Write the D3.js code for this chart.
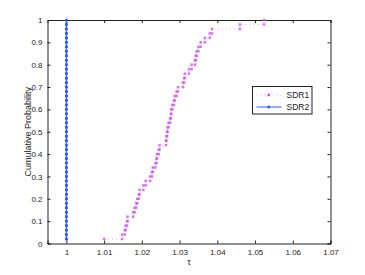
<!DOCTYPE html>
<html>
<head>
<meta charset="UTF-8">
<script src="https://cdn.jsdelivr.net/npm/d3@7/dist/d3.min.js"></script>
<style>
body{
    margin:0;
    background-color:white;
    font-family: "Liberation Sans", Helvetica, Arial, sans-serif;
}
.axis path, .axis line{
    stroke:#222;
}
.axis text{
    font-size:8px;
    fill:#222;
}
</style>
</head>
<body>
<script>

// sorted performance ratios, 50 problems
var sdr1 = [1.0100, 1.0148, 1.0155, 1.0157, 1.0161, 1.0162, 1.0177, 1.0181, 1.0185, 1.0188,
            1.0192, 1.0194, 1.0204, 1.0210, 1.0222, 1.0227, 1.0229, 1.0236, 1.0239, 1.0240,
            1.0245, 1.0247, 1.0264, 1.0265, 1.0267, 1.0268, 1.0271, 1.0275, 1.0277, 1.0278,
            1.0281, 1.0285, 1.0287, 1.0292, 1.0296, 1.0309, 1.0312, 1.0314, 1.0325, 1.0332,
            1.0341, 1.0343, 1.0345, 1.0350, 1.0356, 1.0367, 1.0380, 1.0386, 1.0460, 1.0524];
var sdr2 = d3.range(50).map(function(){ return 1; });
var seriesNames = ["SDR1", "SDR2"];
var xTicks = [1, 1.01, 1.02, 1.03, 1.04, 1.05, 1.06, 1.07];
var yTicks = [0, 0.1, 0.2, 0.3, 0.4, 0.5, 0.6, 0.7, 0.8, 0.9, 1];

var width = 365, height = 275;
var margin = {top: 20, right: 34.5, bottom: 31.5, left: 47.5};

var x = d3.scaleLinear().domain([0.995, 1.07]).range([margin.left, width - margin.right]);
var y = d3.scaleLinear().domain([0, 1]).range([height - margin.bottom, margin.top]);

// matlab style stairs: (r1,y1),(r2,y1),(r2,y2),...,(rn,yn)
function stairs(r){
    var n = r.length, pts = [];
    for (var i = 0; i < n; i++){
        pts.push([r[i], (i + 1) / n]);
        if (i < n - 1) pts.push([r[i + 1], (i + 1) / n]);
    }
    return pts;
}

var svg = d3.select("body").append("svg")
    .attr("width", width)
    .attr("height", height);

var fmt = function(d){ return d3.format("")(+d.toFixed(2)); };

svg.append("g")
    .attr("class", "axis")
    .attr("transform", "translate(0," + y(0) + ")")
    .call(d3.axisBottom(x).tickValues(xTicks).tickSize(-3).tickPadding(6).tickFormat(fmt));
svg.append("g")
    .attr("class", "axis")
    .attr("transform", "translate(0," + y(1) + ")")
    .call(d3.axisTop(x).tickValues(xTicks).tickSize(-3).tickFormat(""));
svg.append("g")
    .attr("class", "axis")
    .attr("transform", "translate(" + x(0.995) + ",0)")
    .call(d3.axisLeft(y).tickValues(yTicks).tickSize(-3).tickPadding(5).tickFormat(fmt));
svg.append("g")
    .attr("class", "axis")
    .attr("transform", "translate(" + x(1.07) + ",0)")
    .call(d3.axisRight(y).tickValues(yTicks).tickSize(-3).tickFormat(""));
svg.selectAll(".axis path").attr("stroke-width", 1);

svg.append("text")
    .attr("x", x(1.0325))
    .attr("y", 265)
    .attr("font-size", 9)
    .attr("text-anchor", "middle")
    .attr("fill", "#222")
    .text("τ");

svg.append("text")
    .attr("transform", "translate(31," + y(0.5) + ") rotate(-90)")
    .attr("font-size", 9)
    .attr("text-anchor", "middle")
    .attr("fill", "#222")
    .text("Cumulative Probability");

var line = d3.line().x(function(d){ return x(d[0]); }).y(function(d){ return y(d[1]); });

var p1 = stairs(sdr1), p2 = stairs(sdr2);
var c1 = "#d050f5", c2 = "#2a55ff";

svg.append("path")
    .datum(p1)
    .attr("d", line)
    .attr("fill", "none")
    .attr("stroke", "#e6a6f7")
    .attr("stroke-width", 1)
    .attr("stroke-dasharray", "1,3");
svg.selectAll(".m1")
    .data(p1)
    .enter().append("rect")
    .attr("x", function(d){ return x(d[0]) - 1.25; })
    .attr("y", function(d){ return y(d[1]) - 1.25; })
    .attr("width", 2.5)
    .attr("height", 2.5)
    .attr("fill", c1)
    .attr("opacity", 0.8);

svg.append("path")
    .datum(p2)
    .attr("d", line)
    .attr("fill", "none")
    .attr("stroke", c2)
    .attr("stroke-width", 1);
svg.selectAll(".m2")
    .data(p2)
    .enter().append("rect")
    .attr("x", function(d){ return x(d[0]) - 1.25; })
    .attr("y", function(d){ return y(d[1]) - 1.25; })
    .attr("width", 2.5)
    .attr("height", 2.5)
    .attr("fill", c2);

// legend
var lg = svg.append("g").attr("transform", "translate(252.5,86.5)");
lg.append("rect")
    .attr("width", 59.5)
    .attr("height", 27.5)
    .attr("fill", "white")
    .attr("stroke", "#222");
var styles = [{c: c1, dash: "1,3", lc: "#e6a6f7"}, {c: c2, dash: null, lc: c2}];
seriesNames.forEach(function(name, i){
    var yy = 8.5 + i * 12;
    lg.append("line")
        .attr("x1", 4).attr("x2", 29)
        .attr("y1", yy).attr("y2", yy)
        .attr("stroke", styles[i].lc)
        .attr("stroke-dasharray", styles[i].dash);
    lg.append("rect")
        .attr("x", 15).attr("y", yy - 1.25)
        .attr("width", 2.5).attr("height", 2.5)
        .attr("fill", styles[i].c);
    lg.append("text")
        .attr("x", 34)
        .attr("y", yy + 3)
        .attr("font-size", 8.5)
        .attr("fill", "#222")
        .text(name);
});

</script>
</body>
</html>
